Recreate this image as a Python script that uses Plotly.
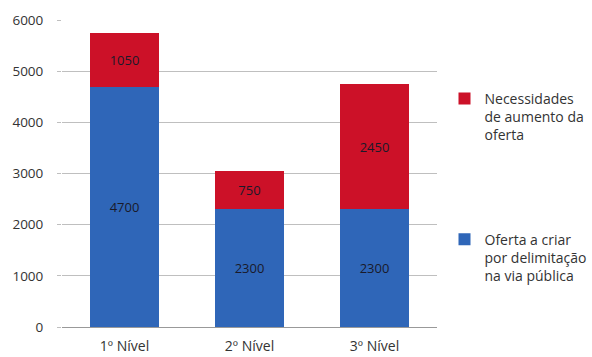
import plotly.graph_objects as go

categories = ["1º Nível", "2º Nível", "3º Nível"]
oferta = [4700, 2300, 2300]
necessidades = [1050, 750, 2450]
tick_vals = [0, 1000, 2000, 3000, 4000, 5000, 6000]

blue = "#2F66B8"
red = "#CC1128"
font_family = "Open Sans, Liberation Sans, sans-serif"

fig = go.Figure()
fig.add_trace(go.Bar(
    x=categories, y=oferta, name="Oferta a criar<br>por delimitação<br>na via pública",
    marker=dict(color=blue, line=dict(width=0)),
    text=[str(v) for v in oferta], textposition="inside", insidetextanchor="middle",
    textfont=dict(color="#1a1a2a", size=13, family=font_family),
    legendgroup="b", legendrank=2,
))
fig.add_trace(go.Bar(
    x=categories, y=necessidades, name="Necessidades<br>de aumento da<br>oferta",
    marker=dict(color=red, line=dict(width=0)),
    text=[str(v) for v in necessidades], textposition="inside", insidetextanchor="middle",
    textfont=dict(color="#1a1a2a", size=13, family=font_family),
    legendgroup="a", legendrank=1,
))

fig.update_layout(
    barmode="stack",
    bargap=0.455,
    width=592, height=357,
    margin=dict(l=62, r=155, t=20, b=30, autoexpand=False),
    paper_bgcolor="white", plot_bgcolor="white",
    font=dict(family=font_family, size=14, color="#333333"),
    uniformtext=dict(minsize=8, mode="show"),
    showlegend=True,
    legend=dict(
        x=1.02, y=0.795, xanchor="left", yanchor="top",
        tracegroupgap=83, valign="top",
        font=dict(size=14, color="#333333"),
        itemwidth=30,
    ),
    xaxis=dict(
        showgrid=False, showline=True, linecolor="#999999", linewidth=1,
        tickfont=dict(size=14, color="#333333"),
        ticks="", ticklabelstandoff=6,
    ),
    yaxis=dict(
        range=[0, 6000], tickvals=tick_vals,
        showgrid=True, gridcolor="#BFBFBF", gridwidth=1,
        zeroline=False, showline=False,
        ticks="outside", ticklen=4, tickcolor="#BFBFBF",
        ticklabelstandoff=11,
        tickfont=dict(size=13.5, color="#333333"),
    ),
)

fig.write_html("out.html")
